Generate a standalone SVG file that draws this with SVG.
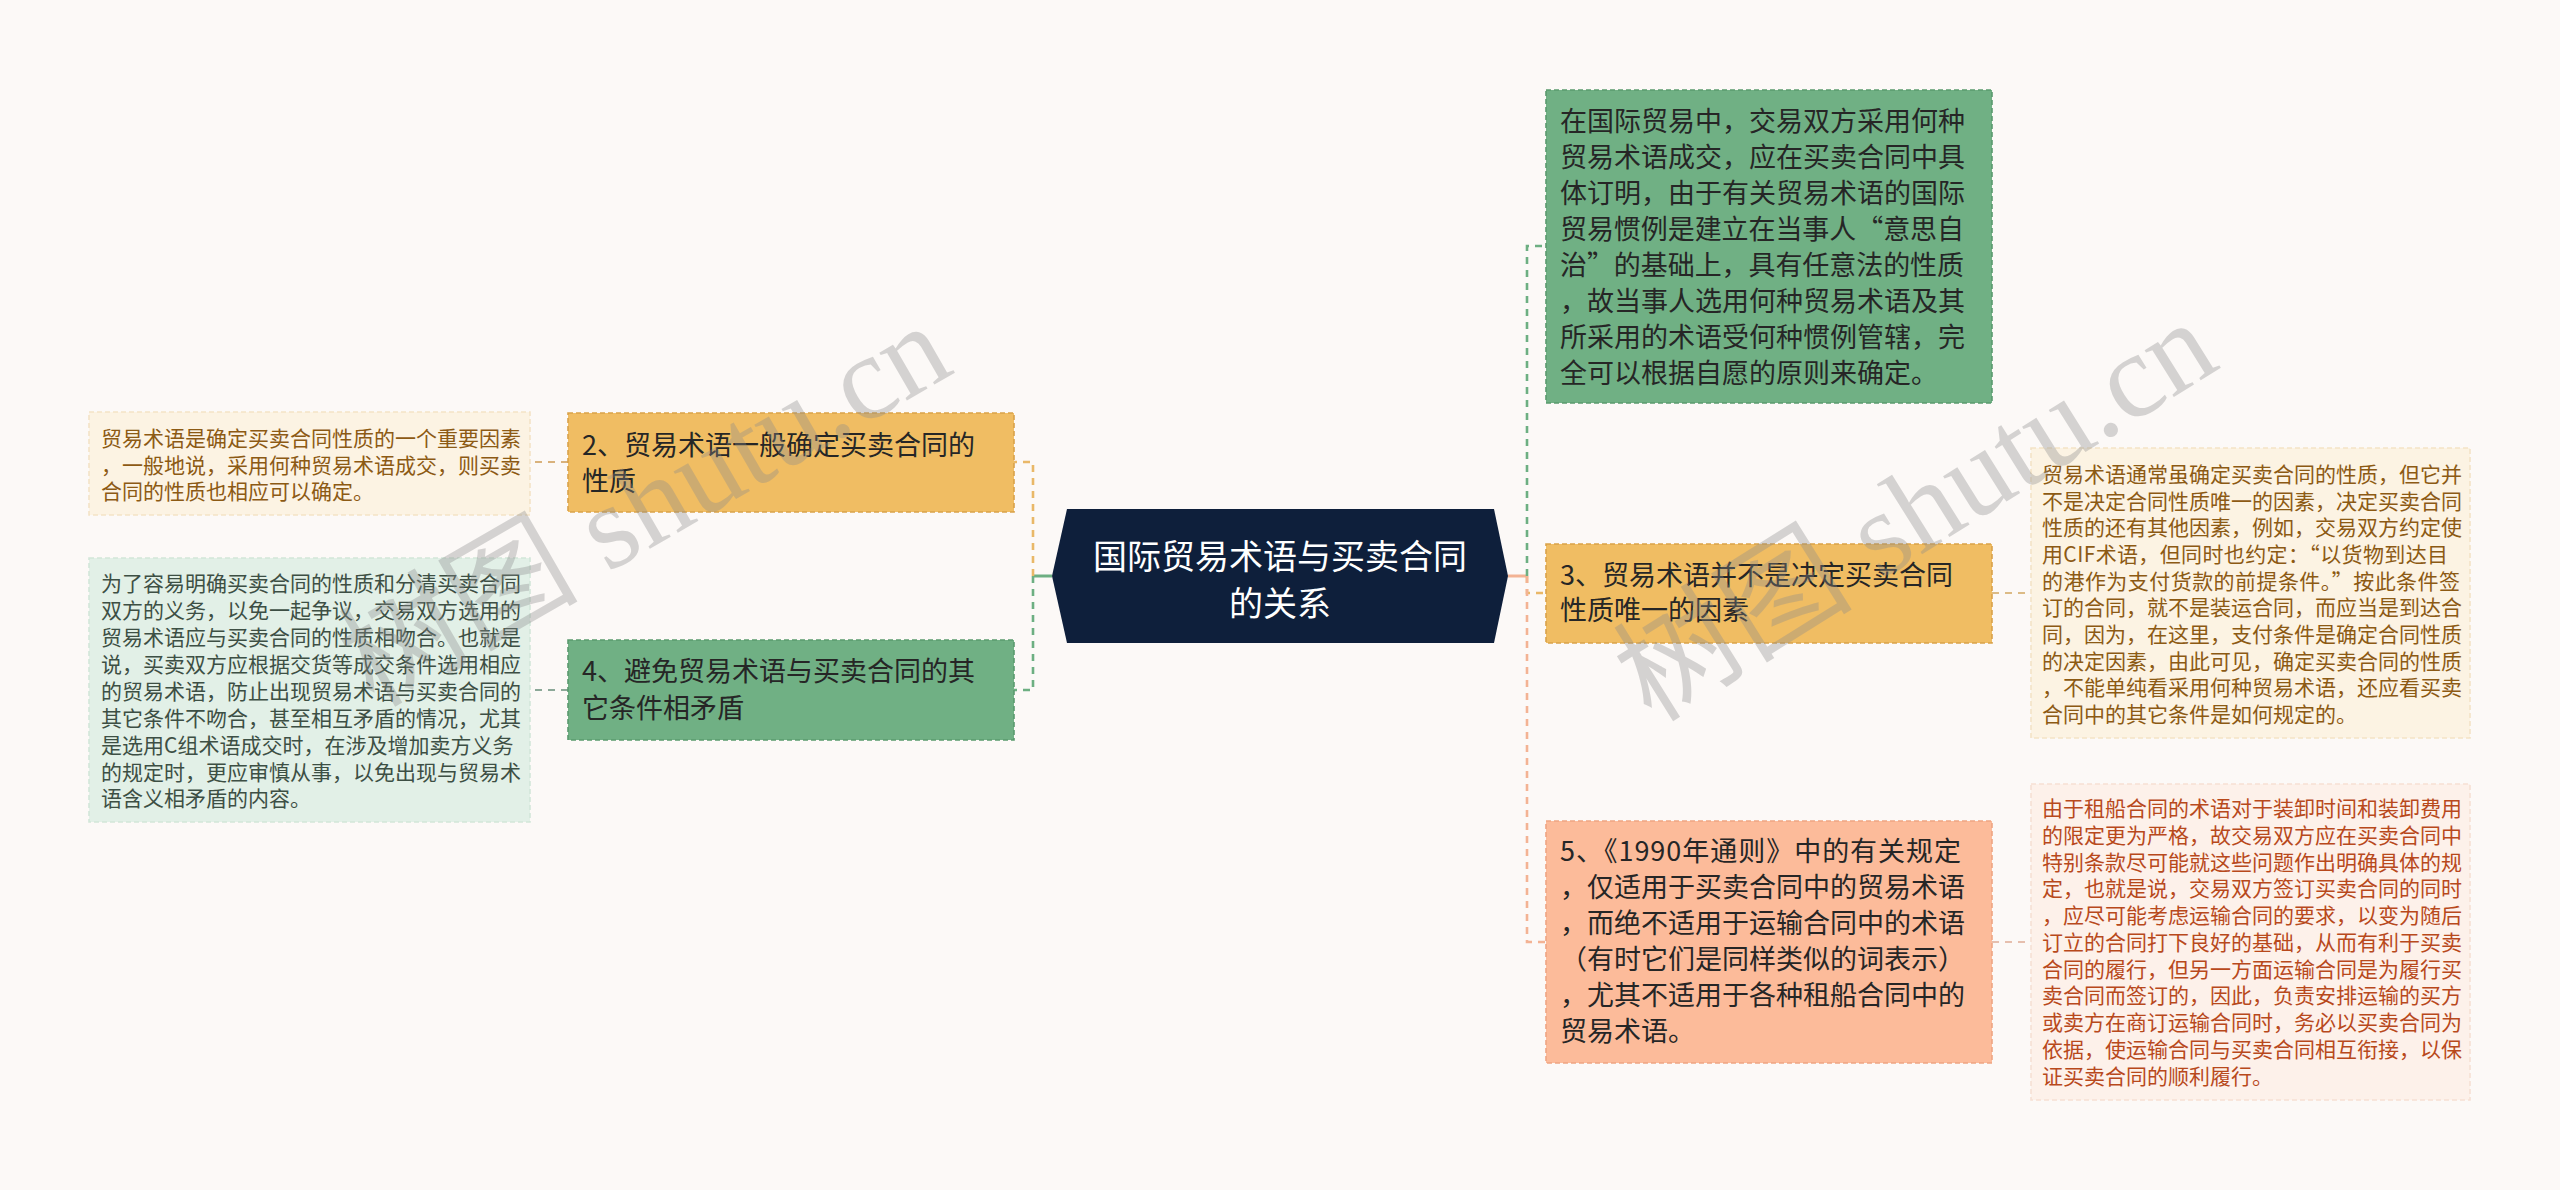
<svg xmlns="http://www.w3.org/2000/svg" width="2560" height="1190" viewBox="0 0 2560 1190">
<style>
.t{font-family:"Noto Sans CJK SC","Noto Sans",sans-serif}
.node{font-size:27px;fill:#262626}
.leaf{font-size:21px}
.c{stroke-width:2.6;fill:none;stroke-dasharray:7 6}
.s{stroke-width:2;fill:none;stroke-dasharray:7 6}
.bd{stroke-width:1.6;stroke-dasharray:5 3}
.wm{font-size:120px;fill:#8c8c8c;opacity:0.35}
</style>
<rect width="2560" height="1190" fill="#fcf9f7"/>
<g id="connectors">
<path d="M1052,576 H1033" stroke="#6daf82" stroke-width="3" fill="none"/>
<path class="c" d="M1033,576 V462 H1014" stroke="#e9b868"/>
<path class="c" d="M1033,576 V690 H1014" stroke="#6daf82"/>
<path d="M1508,576 H1527" stroke="#f3b394" stroke-width="3" fill="none"/>
<path class="c" d="M1527,576 V246 H1546" stroke="#6daf82"/>
<path class="c" d="M1527,576 V593 H1546" stroke="#e9b868"/>
<path class="c" d="M1527,576 V942 H1546" stroke="#f3b394"/>
<path class="s" d="M568,462 H530" stroke="#d9b27c"/>
<path class="s" d="M568,690 H530" stroke="#8ca898"/>
<path class="s" d="M1992,593 H2031" stroke="#dcbb86"/>
<path class="s" d="M1992,942 H2031" stroke="#e6bfae"/>
</g>
<g id="center">
<polygon points="1052,576 1067,509 1494,509 1508,576 1494,643 1067,643" fill="#0e1f3b"/>
<text class="t" x="1280" y="569" text-anchor="middle" font-size="34" fill="#ffffff">国际贸易术语与买卖合同</text>
<text class="t" x="1280" y="616" text-anchor="middle" font-size="34" fill="#ffffff">的关系</text>
</g>
<g id="node2">
<rect x="568" y="413" width="446" height="99" fill="#f0bd63" stroke="#d9a24a" class="bd"/>
<text class="t node" x="582" y="455">2、贸易术语一般确定买卖合同的</text>
<text class="t node" x="582" y="491">性质</text>
</g>
<g id="leaf2">
<rect x="89" y="412" width="441" height="103" fill="#fcf3e3" stroke="#f3e3c6" class="bd"/>
<g class="t leaf" fill="#8c5a14">
<text x="101" y="446">贸易术语是确定买卖合同性质的一个重要因素</text>
<text x="101" y="473">，一般地说，采用何种贸易术语成交，则买卖</text>
<text x="101" y="499">合同的性质也相应可以确定。</text>
</g>
</g>
<g id="node4">
<rect x="568" y="640" width="446" height="100" fill="#70b084" stroke="#5a9a6e" class="bd"/>
<text class="t node" x="582" y="681">4、避免贸易术语与买卖合同的其</text>
<text class="t node" x="582" y="718">它条件相矛盾</text>
</g>
<g id="leaf4">
<rect x="89" y="558" width="441" height="264" fill="#e2f0e7" stroke="#d2e6d9" class="bd"/>
<g class="t leaf" fill="#3d4f44">
<text x="101" y="591">为了容易明确买卖合同的性质和分清买卖合同</text>
<text x="101" y="618">双方的义务，以免一起争议，交易双方选用的</text>
<text x="101" y="645">贸易术语应与买卖合同的性质相吻合。也就是</text>
<text x="101" y="672">说，买卖双方应根据交货等成交条件选用相应</text>
<text x="101" y="699">的贸易术语，防止出现贸易术语与买卖合同的</text>
<text x="101" y="726">其它条件不吻合，甚至相互矛盾的情况，尤其</text>
<text x="101" y="753">是选用C组术语成交时，在涉及增加卖方义务</text>
<text x="101" y="780">的规定时，更应审慎从事，以免出现与贸易术</text>
<text x="101" y="806">语含义相矛盾的内容。</text>
</g>
</g>
<g id="node1">
<rect x="1546" y="90" width="446" height="313" fill="#70b084" stroke="#5a9a6e" class="bd"/>
<g class="t node">
<text x="1560" y="131">在国际贸易中，交易双方采用何种</text>
<text x="1560" y="167">贸易术语成交，应在买卖合同中具</text>
<text x="1560" y="203">体订明，由于有关贸易术语的国际</text>
<text x="1560" y="239" textLength="404" lengthAdjust="spacing">贸易惯例是建立在当事人“意思自</text>
<text x="1560" y="275" textLength="404" lengthAdjust="spacing">治”的基础上，具有任意法的性质</text>
<text x="1560" y="311">，故当事人选用何种贸易术语及其</text>
<text x="1560" y="347">所采用的术语受何种惯例管辖，完</text>
<text x="1560" y="383">全可以根据自愿的原则来确定。</text>
</g>
</g>
<g id="node3">
<rect x="1546" y="544" width="446" height="99" fill="#f0bd63" stroke="#d9a24a" class="bd"/>
<text class="t node" x="1560" y="585">3、贸易术语并不是决定买卖合同</text>
<text class="t node" x="1560" y="620">性质唯一的因素</text>
</g>
<g id="leaf3">
<rect x="2031" y="448" width="439" height="290" fill="#fcf3e3" stroke="#f3e3c6" class="bd"/>
<g class="t leaf" fill="#8c5a14">
<text x="2042" y="482">贸易术语通常虽确定买卖合同的性质，但它并</text>
<text x="2042" y="509">不是决定合同性质唯一的因素，决定买卖合同</text>
<text x="2042" y="535">性质的还有其他因素，例如，交易双方约定使</text>
<text x="2042" y="562" textLength="406" lengthAdjust="spacing">用CIF术语，但同时也约定：“以货物到达目</text>
<text x="2042" y="589" textLength="418" lengthAdjust="spacing">的港作为支付货款的前提条件。”按此条件签</text>
<text x="2042" y="615">订的合同，就不是装运合同，而应当是到达合</text>
<text x="2042" y="642">同，因为，在这里，支付条件是确定合同性质</text>
<text x="2042" y="669">的决定因素，由此可见，确定买卖合同的性质</text>
<text x="2042" y="695">，不能单纯看采用何种贸易术语，还应看买卖</text>
<text x="2042" y="722">合同中的其它条件是如何规定的。</text>
</g>
</g>
<g id="node5">
<rect x="1546" y="821" width="446" height="242" fill="#fcbb9a" stroke="#eea583" class="bd"/>
<g class="t node">
<text x="1560" y="861" textLength="401" lengthAdjust="spacing">5、《1990年通则》中的有关规定</text>
<text x="1560" y="897">，仅适用于买卖合同中的贸易术语</text>
<text x="1560" y="933">，而绝不适用于运输合同中的术语</text>
<text x="1560" y="969">（有时它们是同样类似的词表示）</text>
<text x="1560" y="1005">，尤其不适用于各种租船合同中的</text>
<text x="1560" y="1041">贸易术语。</text>
</g>
</g>
<g id="leaf5">
<rect x="2031" y="784" width="439" height="316" fill="#fdf1ea" stroke="#f6e0d4" class="bd"/>
<g class="t leaf" fill="#b8491c">
<text x="2042" y="816">由于租船合同的术语对于装卸时间和装卸费用</text>
<text x="2042" y="843">的限定更为严格，故交易双方应在买卖合同中</text>
<text x="2042" y="870">特别条款尽可能就这些问题作出明确具体的规</text>
<text x="2042" y="896">定，也就是说，交易双方签订买卖合同的同时</text>
<text x="2042" y="923">，应尽可能考虑运输合同的要求，以变为随后</text>
<text x="2042" y="950">订立的合同打下良好的基础，从而有利于买卖</text>
<text x="2042" y="977">合同的履行，但另一方面运输合同是为履行买</text>
<text x="2042" y="1003">卖合同而签订的，因此，负责安排运输的买方</text>
<text x="2042" y="1030">或卖方在商订运输合同时，务必以买卖合同为</text>
<text x="2042" y="1057">依据，使运输合同与买卖合同相互衔接，以保</text>
<text x="2042" y="1084">证买卖合同的顺利履行。</text>
</g>
</g>
<g id="watermark">
<text class="wm" font-family="'Liberation Serif','Noto Sans CJK SC',serif" transform="translate(665,540) rotate(-30)" text-anchor="middle">树图 shutu.cn</text>
<text class="wm" font-family="'Liberation Serif','Noto Sans CJK SC',serif" transform="translate(1937,545) rotate(-32)" text-anchor="middle">树图 shutu.cn</text>
</g>
</svg>
